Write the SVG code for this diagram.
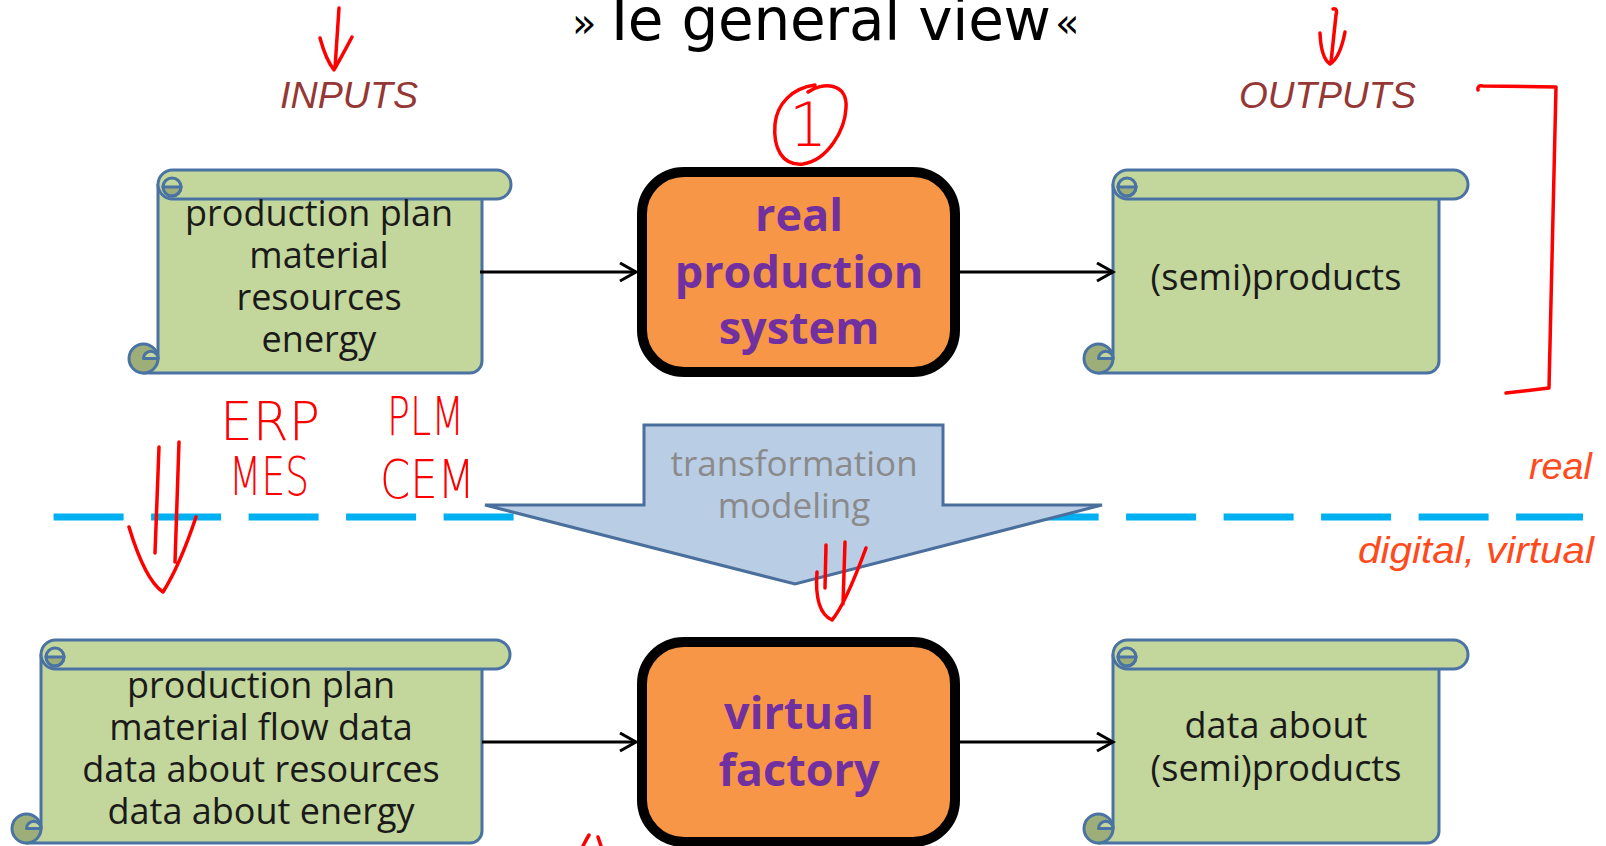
<svg xmlns="http://www.w3.org/2000/svg" width="1606" height="846" viewBox="0 0 1606 846">
  <defs>
    <style>
      .scroll-light { fill: #C3D69B; stroke: #4A73A3; stroke-width: 3; stroke-linejoin: round; }
      .scroll-dark { fill: #9DAE78; stroke: #4A73A3; stroke-width: 3; }
      .scroll-line { fill: none; stroke: #4A73A3; stroke-width: 3; stroke-linecap: round; }
      .scroll-text { font-family: "Open Sans", "Liberation Sans", sans-serif; font-size: 36px; fill: #1a1a1a; text-anchor: middle; }
      .box { fill: #F79646; stroke: #000; stroke-width: 10; }
      .box-text { font-family: "Open Sans", "Liberation Sans", sans-serif; font-weight: bold; font-size: 45px; fill: #7030A0; text-anchor: middle; }
      .io-label { font-family: "Liberation Sans", "Open Sans", sans-serif; font-style: italic; font-size: 37px; fill: #953735; }
      .side-label { font-family: "Liberation Sans", "Open Sans", sans-serif; font-style: italic; font-size: 37px; fill: #FF4A1C; }
      .conn { stroke: #000; stroke-width: 3; fill: none; marker-end: url(#arrowhead); }
      .ink { fill: none; stroke: #FF0000; stroke-width: 3.5; stroke-linecap: round; stroke-linejoin: round; }
      .ink-text { font-family: "DejaVu Sans", "Liberation Sans", sans-serif; font-weight: 200; fill: #FF0000; }
    </style>
    <marker id="arrowhead" markerUnits="userSpaceOnUse" markerWidth="24" markerHeight="24" refX="18" refY="10" orient="auto">
      <path d="M2,1 L18,10 L2,19" fill="none" stroke="#000" stroke-width="3"/>
    </marker>
    <!-- curl at the left end of a scroll's top roll -->
    <g id="top-curl">
      <path class="scroll-dark" d="M34,17 A9,9 0 0 0 52,17 Z" stroke="none"/>
      <path class="scroll-line" d="M34,17 A9,9 0 0 1 52,17 A9,9 0 0 1 43,26"/>
    </g>
    <!-- curl at the bottom left of a scroll -->
    <g id="bottom-curl">
      <circle class="scroll-dark" cx="14.5" cy="188.5" r="14.5"/>
      <path class="scroll-light" d="M29,188.5 A7.25,7.25 0 0 0 14.5,188.5 Z"/>
    </g>
  </defs>

  <rect width="1606" height="846" fill="#fff"/>

  <!-- title, partly above the top edge -->
  <g id="title" font-family="DejaVu Sans, Liberation Sans, sans-serif" fill="#000">
    <text x="572" y="37" font-size="40">»</text>
    <text x="611" y="40" font-size="58" textLength="440" lengthAdjust="spacing">Ie general view</text>
    <text x="1055" y="37" font-size="40">«</text>
  </g>

  <!-- real / digital divider -->
  <g id="divider">
    <line x1="53.6" y1="517" x2="1583" y2="517" stroke="#00B0F0" stroke-width="7" stroke-dasharray="70 27.5"/>
    <text class="side-label" x="1529" y="479" textLength="63" lengthAdjust="spacingAndGlyphs">real</text>
    <text class="side-label" x="1358" y="563" textLength="236" lengthAdjust="spacingAndGlyphs">digital, virtual</text>
  </g>

  <g id="labels">
    <text class="io-label" x="280" y="108" textLength="138" lengthAdjust="spacingAndGlyphs">INPUTS</text>
    <text class="io-label" x="1239" y="108" textLength="177" lengthAdjust="spacingAndGlyphs">OUTPUTS</text>
  </g>

  <!-- scroll: inputs (real) -->
  <g id="inputs-real" transform="translate(129,170)">
    <path class="scroll-light" d="M29,14.5 H353 V191 A12,12 0 0 1 341,203 H14.5 L29,188.5 Z"/>
    <use href="#bottom-curl"/>
    <path class="scroll-light" d="M43.5,0 H367.5 A14.5,14.5 0 0 1 367.5,29 H43.5 A14.5,14.5 0 0 1 43.5,0 Z"/>
    <use href="#top-curl"/>
    <text class="scroll-text" x="190" y="56">production plan</text>
    <text class="scroll-text" x="190" y="98">material</text>
    <text class="scroll-text" x="190" y="140">resources</text>
    <text class="scroll-text" x="190" y="182">energy</text>
  </g>

  <!-- process: real production system -->
  <g id="real-system">
    <rect class="box" x="642" y="172" width="313" height="200" rx="42"/>
    <text class="box-text" x="799" y="231">real</text>
    <text class="box-text" x="799" y="288">production</text>
    <text class="box-text" x="799" y="344">system</text>
  </g>

  <!-- scroll: outputs (real) -->
  <g id="outputs-real" transform="translate(1084,170)">
    <path class="scroll-light" d="M29,14.5 H355 V191 A12,12 0 0 1 343,203 H14.5 L29,188.5 Z"/>
    <use href="#bottom-curl"/>
    <path class="scroll-light" d="M43.5,0 H369.5 A14.5,14.5 0 0 1 369.5,29 H43.5 A14.5,14.5 0 0 1 43.5,0 Z"/>
    <use href="#top-curl"/>
    <text class="scroll-text" x="192" y="120">(semi)products</text>
  </g>

  <!-- transformation arrow -->
  <g id="transformation">
    <path d="M644,425 H943 V505 H1102 L795,584 L485,505 H644 Z" fill="#B9CDE5" stroke="#4A6F9C" stroke-width="3" stroke-linejoin="miter"/>
    <text x="794" y="476" font-family="Open Sans, Liberation Sans, sans-serif" font-size="35" fill="#8A8A8A" text-anchor="middle">transformation</text>
    <text x="794" y="518" font-family="Open Sans, Liberation Sans, sans-serif" font-size="35" fill="#8A8A8A" text-anchor="middle">modeling</text>
  </g>

  <!-- scroll: inputs (digital) -->
  <g id="inputs-digital" transform="translate(12,640)">
    <path class="scroll-light" d="M29,14.5 H470 V191 A12,12 0 0 1 458,203 H14.5 L29,188.5 Z"/>
    <use href="#bottom-curl"/>
    <path class="scroll-light" d="M43.5,0 H483.5 A14.5,14.5 0 0 1 483.5,29 H43.5 A14.5,14.5 0 0 1 43.5,0 Z"/>
    <use href="#top-curl"/>
    <text class="scroll-text" x="249" y="58">production plan</text>
    <text class="scroll-text" x="249" y="100">material flow data</text>
    <text class="scroll-text" x="249" y="142">data about resources</text>
    <text class="scroll-text" x="249" y="184">data about energy</text>
  </g>

  <!-- process: virtual factory -->
  <g id="virtual-factory">
    <rect class="box" x="642" y="642" width="313" height="200" rx="42"/>
    <text class="box-text" x="799" y="729">virtual</text>
    <text class="box-text" x="799" y="786">factory</text>
  </g>

  <!-- scroll: outputs (digital) -->
  <g id="outputs-digital" transform="translate(1084,640)">
    <path class="scroll-light" d="M29,14.5 H355 V191 A12,12 0 0 1 343,203 H14.5 L29,188.5 Z"/>
    <use href="#bottom-curl"/>
    <path class="scroll-light" d="M43.5,0 H369.5 A14.5,14.5 0 0 1 369.5,29 H43.5 A14.5,14.5 0 0 1 43.5,0 Z"/>
    <use href="#top-curl"/>
    <text class="scroll-text" x="192" y="98">data about</text>
    <text class="scroll-text" x="192" y="141">(semi)products</text>
  </g>

  <!-- connectors -->
  <g id="connectors">
    <line class="conn" x1="480" y1="272" x2="636" y2="272"/>
    <line class="conn" x1="960" y1="272" x2="1113" y2="272"/>
    <line class="conn" x1="482" y1="742" x2="636" y2="742"/>
    <line class="conn" x1="960" y1="742" x2="1113" y2="742"/>
  </g>

  <!-- hand-drawn red notes -->
  <g id="notes">
    <path class="ink" d="M339,8 L335,68 M320,38 Q326,60 334,70 Q342,56 352,37"/>
    <path class="ink" d="M1333,9 Q1338,8 1336,15 L1331,62 M1320,33 Q1321,58 1330,64 Q1340,58 1345,32"/>
    <path class="ink" d="M808,92 C822,82 848,82 846,108 C845,130 828,160 803,164 C782,166 773,148 775,124 C777,104 792,88 815,85"/>
    <text class="ink-text" x="808" y="146" font-size="60" text-anchor="middle">1</text>
    <path class="ink" d="M1478,90 Q1477,85 1483,86 L1556,87 Q1552,240 1549,388 L1506,393"/>
    <text class="ink-text" x="220" y="440" font-size="54" textLength="100" lengthAdjust="spacingAndGlyphs">ERP</text>
    <text class="ink-text" x="229" y="495" font-size="54" textLength="80" lengthAdjust="spacingAndGlyphs">MES</text>
    <text class="ink-text" x="387" y="435" font-size="54" textLength="77" lengthAdjust="spacingAndGlyphs">PLM</text>
    <text class="ink-text" x="380" y="498" font-size="54" textLength="95" lengthAdjust="spacingAndGlyphs">CEM</text>
    <path class="ink" d="M159,447 L155,553 M179,442 L175,562 M129,527 Q145,580 163,592 Q180,565 196,517"/>
    <path class="ink" d="M826,545 L825,588 M845,542 L843,604 M817,572 Q814,612 832,620 Q845,605 866,548"/>
    <path class="ink" d="M583,846 Q586,840 589,835 M598,837 L601,846"/>
  </g>
</svg>
